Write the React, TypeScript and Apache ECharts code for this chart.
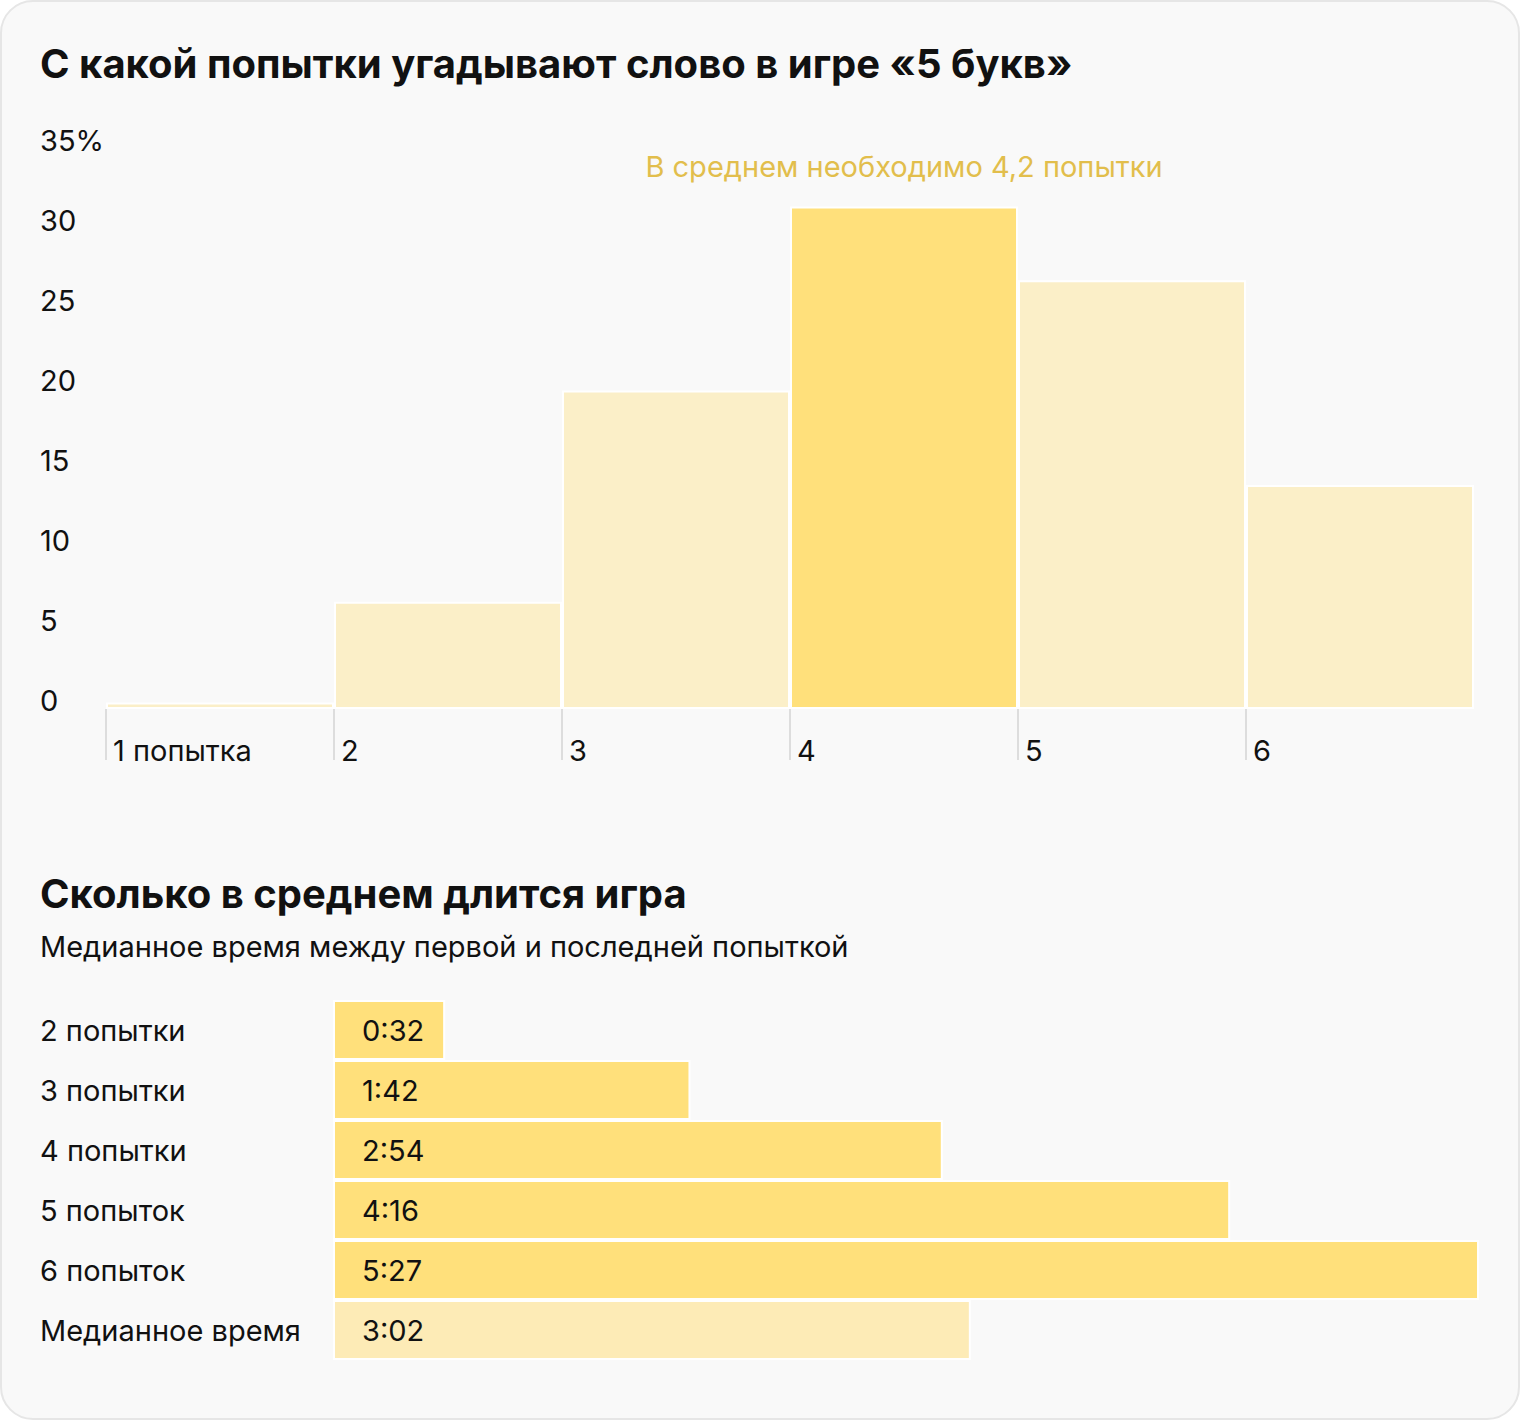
import React, { useEffect, useRef } from "react";
import * as echarts from "echarts";

const FONT = "Inter, 'Noto Sans', sans-serif";

const attemptCategories = ["1 попытка", "2", "3", "4", "5", "6"];
const attemptShares = [0.4, 6.7, 19.9, 31.4, 26.8, 14.0];
const highlightIndex = 3;
const averageNote = "В среднем необходимо 4,2 попытки";
const yTicks = [0, 5, 10, 15, 20, 25, 30, 35];

const durationCategories = ["2 попытки", "3 попытки", "4 попытки", "5 попыток", "6 попыток", "Медианное время"];
const durationLabels = ["0:32", "1:42", "2:54", "4:16", "5:27", "3:02"];

const title1 = "С какой попытки угадывают слово в игре «5 букв»";
const title2 = "Сколько в среднем длится игра";
const subtitle2 = "Медианное время между первой и последней попыткой";

const DARK = "#FFE07B";
const LIGHT = "#FBEFC8";
const MEDIAN = "#FDEBB6";
const TEXT = "#111111";
const FS = 29;

function toSeconds(s: string): number {
  const [m, sec] = s.split(":").map(Number);
  return m * 60 + sec;
}

export default function App() {
  const ref = useRef<HTMLDivElement>(null);
  useEffect(() => {
    if (!ref.current) return;
    const chart = echarts.init(ref.current, null, { renderer: "svg" });
    const durations = durationLabels.map(toSeconds);
    const option: any = {
      animation: false,
      backgroundColor: "transparent",
      graphic: [
        {
          type: "rect",
          z: -10,
          silent: true,
          shape: { x: 1, y: 1, width: 1518, height: 1418, r: 32 },
          style: { fill: "#F9F9F9", stroke: "#E6E6E6", lineWidth: 2 },
        },
      ],
      title: [
        {
          text: title1,
          left: 40,
          top: 43,
          padding: 0,
          textStyle: { fontFamily: FONT, fontSize: 40, fontWeight: 700, color: TEXT, lineHeight: 40 },
        },
        {
          text: title2,
          left: 40,
          top: 873,
          padding: 0,
          textStyle: { fontFamily: FONT, fontSize: 40, fontWeight: 700, color: TEXT, lineHeight: 40 },
        },
        {
          text: subtitle2,
          left: 40,
          top: 932,
          padding: 0,
          textStyle: { fontFamily: FONT, fontSize: FS, fontWeight: 400, color: TEXT, lineHeight: 29 },
        },
      ],
      grid: [
        { left: 106, top: 149, width: 1368, height: 560, containLabel: false },
        { left: 333, top: 1000, width: 1146, height: 360, containLabel: false },
      ],
      xAxis: [
        {
          type: "category",
          gridIndex: 0,
          data: attemptCategories,
          boundaryGap: true,
          axisLine: { show: false },
          axisTick: { show: false },
          axisLabel: { show: false },
          splitLine: { show: false },
        },
        {
          type: "category",
          gridIndex: 0,
          position: "bottom",
          data: [...attemptCategories, ""],
          boundaryGap: false,
          axisLine: { show: false },
          axisTick: {
            show: true,
            length: 51,
            interval: (_i: number, v: string) => v !== "",
            lineStyle: { color: "#DDDDDD", width: 2 },
          },
          axisLabel: {
            show: true,
            interval: 0,
            align: "left",
            verticalAlign: "top",
            margin: 28,
            padding: [0, 0, 0, 7],
            fontFamily: FONT,
            fontSize: FS,
            lineHeight: 26,
            color: TEXT,
          },
          splitLine: { show: false },
        },
        {
          type: "value",
          gridIndex: 1,
          min: 0,
          max: "dataMax",
          show: false,
        },
      ],
      yAxis: [
        {
          type: "value",
          gridIndex: 0,
          min: 0,
          max: 35,
          interval: 5,
          axisLine: { show: false },
          axisTick: { show: false },
          splitLine: { show: false },
          axisLabel: {
            align: "left",
            verticalAlign: "bottom",
            margin: 66,
            fontFamily: FONT,
            fontSize: FS,
            lineHeight: 18,
            color: TEXT,
            formatter: (v: number) => (v === yTicks[yTicks.length - 1] ? v + "%" : String(v)),
          },
        },
        {
          type: "category",
          gridIndex: 1,
          data: durationCategories,
          inverse: true,
          axisLine: { show: false },
          axisTick: { show: false },
          axisLabel: {
            align: "left",
            margin: 293,
            fontFamily: FONT,
            fontSize: FS,
            color: TEXT,
          },
        },
      ],
      series: [
        {
          type: "bar",
          xAxisIndex: 0,
          yAxisIndex: 0,
          barCategoryGap: "0%",
          data: attemptShares.map((v, i) => ({
            value: v,
            itemStyle: { color: i === highlightIndex ? DARK : LIGHT },
            label:
              i === highlightIndex
                ? {
                    show: true,
                    position: "top",
                    distance: 27,
                    formatter: averageNote,
                    fontFamily: FONT,
                    fontSize: FS,
                    lineHeight: 26,
                    color: "#E2BE4C",
                  }
                : { show: false },
          })),
          itemStyle: { borderColor: "#FFFFFF", borderWidth: 2 },
        },
        {
          type: "bar",
          xAxisIndex: 2,
          yAxisIndex: 1,
          barCategoryGap: "0%",
          data: durations.map((v, i) => ({
            value: v,
            itemStyle: { color: i === durations.length - 1 ? MEDIAN : DARK },
          })),
          itemStyle: { borderColor: "#FFFFFF", borderWidth: 2 },
          label: {
            show: true,
            position: "insideLeft",
            distance: 29,
            formatter: (p: any) => durationLabels[p.dataIndex],
            fontFamily: FONT,
            fontSize: FS,
            color: TEXT,
          },
        },
      ],
    };
    chart.setOption(option);
    return () => chart.dispose();
  }, []);
  return (
    <div
      ref={ref}
      style={{ position: "absolute", left: 0, top: 0, width: 1520, height: 1420 }}
    />
  );
}
